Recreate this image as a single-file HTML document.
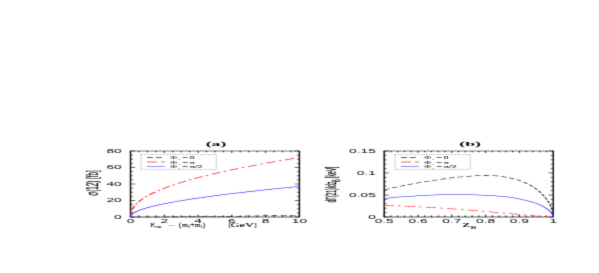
<!DOCTYPE html>
<html><head><meta charset="utf-8">
<style>
html,body{margin:0;padding:0;background:#fff;}
body{width:599px;height:273px;overflow:hidden;font-family:"Liberation Sans",sans-serif;}
svg{display:block;}
text{font-family:"Liberation Sans",sans-serif;fill:#000;}
.ser{font-family:"Liberation Serif",serif;}
</style></head><body>
<svg width="599" height="273" viewBox="0 0 599 273">
<rect x="0" y="0" width="599" height="273" fill="#fff"/>
<defs><filter id="bl" x="0" y="0" width="599" height="273" filterUnits="userSpaceOnUse"><feConvolveMatrix order="3" kernelMatrix="0.01600 0.06800 0.01600 0.12800 0.54400 0.12800 0.01600 0.06800 0.01600" divisor="1" bias="0" edgeMode="none" preserveAlpha="false"/></filter></defs>
<g filter="url(#bl)">
<g transform="scale(2.5,1)">

<path d="M52.200,151.00 L119.760,151.00" stroke="#000" stroke-width="0.45" fill="none"/>
<path d="M52.200,217.00 L119.760,217.00" stroke="#000" stroke-width="0.37" fill="none"/>
<path d="M52.200,150.75 L52.200,217.25" stroke="#000" stroke-width="0.56" fill="none"/>
<path d="M119.760,150.75 L119.760,217.25" stroke="#000" stroke-width="0.56" fill="none"/>
<path d="M52.200,217.00 L52.200,214.70" stroke="#000" stroke-width="0.42" fill="none"/>
<path d="M52.200,151.00 L52.200,152.84" stroke="#000" stroke-width="0.42" fill="none"/>
<path d="M55.578,217.00 L55.578,215.55" stroke="#000" stroke-width="0.42" fill="none"/>
<path d="M55.578,151.00 L55.578,152.16" stroke="#000" stroke-width="0.42" fill="none"/>
<path d="M58.956,217.00 L58.956,215.55" stroke="#000" stroke-width="0.42" fill="none"/>
<path d="M58.956,151.00 L58.956,152.16" stroke="#000" stroke-width="0.42" fill="none"/>
<path d="M62.334,217.00 L62.334,215.55" stroke="#000" stroke-width="0.42" fill="none"/>
<path d="M62.334,151.00 L62.334,152.16" stroke="#000" stroke-width="0.42" fill="none"/>
<path d="M65.712,217.00 L65.712,214.70" stroke="#000" stroke-width="0.42" fill="none"/>
<path d="M65.712,151.00 L65.712,152.84" stroke="#000" stroke-width="0.42" fill="none"/>
<path d="M69.090,217.00 L69.090,215.55" stroke="#000" stroke-width="0.42" fill="none"/>
<path d="M69.090,151.00 L69.090,152.16" stroke="#000" stroke-width="0.42" fill="none"/>
<path d="M72.468,217.00 L72.468,215.55" stroke="#000" stroke-width="0.42" fill="none"/>
<path d="M72.468,151.00 L72.468,152.16" stroke="#000" stroke-width="0.42" fill="none"/>
<path d="M75.846,217.00 L75.846,215.55" stroke="#000" stroke-width="0.42" fill="none"/>
<path d="M75.846,151.00 L75.846,152.16" stroke="#000" stroke-width="0.42" fill="none"/>
<path d="M79.224,217.00 L79.224,214.70" stroke="#000" stroke-width="0.42" fill="none"/>
<path d="M79.224,151.00 L79.224,152.84" stroke="#000" stroke-width="0.42" fill="none"/>
<path d="M82.602,217.00 L82.602,215.55" stroke="#000" stroke-width="0.42" fill="none"/>
<path d="M82.602,151.00 L82.602,152.16" stroke="#000" stroke-width="0.42" fill="none"/>
<path d="M85.980,217.00 L85.980,215.55" stroke="#000" stroke-width="0.42" fill="none"/>
<path d="M85.980,151.00 L85.980,152.16" stroke="#000" stroke-width="0.42" fill="none"/>
<path d="M89.358,217.00 L89.358,215.55" stroke="#000" stroke-width="0.42" fill="none"/>
<path d="M89.358,151.00 L89.358,152.16" stroke="#000" stroke-width="0.42" fill="none"/>
<path d="M92.736,217.00 L92.736,214.70" stroke="#000" stroke-width="0.42" fill="none"/>
<path d="M92.736,151.00 L92.736,152.84" stroke="#000" stroke-width="0.42" fill="none"/>
<path d="M96.114,217.00 L96.114,215.55" stroke="#000" stroke-width="0.42" fill="none"/>
<path d="M96.114,151.00 L96.114,152.16" stroke="#000" stroke-width="0.42" fill="none"/>
<path d="M99.492,217.00 L99.492,215.55" stroke="#000" stroke-width="0.42" fill="none"/>
<path d="M99.492,151.00 L99.492,152.16" stroke="#000" stroke-width="0.42" fill="none"/>
<path d="M102.870,217.00 L102.870,215.55" stroke="#000" stroke-width="0.42" fill="none"/>
<path d="M102.870,151.00 L102.870,152.16" stroke="#000" stroke-width="0.42" fill="none"/>
<path d="M106.248,217.00 L106.248,214.70" stroke="#000" stroke-width="0.42" fill="none"/>
<path d="M106.248,151.00 L106.248,152.84" stroke="#000" stroke-width="0.42" fill="none"/>
<path d="M109.626,217.00 L109.626,215.55" stroke="#000" stroke-width="0.42" fill="none"/>
<path d="M109.626,151.00 L109.626,152.16" stroke="#000" stroke-width="0.42" fill="none"/>
<path d="M113.004,217.00 L113.004,215.55" stroke="#000" stroke-width="0.42" fill="none"/>
<path d="M113.004,151.00 L113.004,152.16" stroke="#000" stroke-width="0.42" fill="none"/>
<path d="M116.382,217.00 L116.382,215.55" stroke="#000" stroke-width="0.42" fill="none"/>
<path d="M116.382,151.00 L116.382,152.16" stroke="#000" stroke-width="0.42" fill="none"/>
<path d="M119.760,217.00 L119.760,214.70" stroke="#000" stroke-width="0.42" fill="none"/>
<path d="M119.760,151.00 L119.760,152.84" stroke="#000" stroke-width="0.42" fill="none"/>
<path d="M52.200,217.00 L54.040,217.00" stroke="#000" stroke-width="0.33" fill="none"/>
<path d="M119.760,217.00 L117.920,217.00" stroke="#000" stroke-width="0.33" fill="none"/>
<path d="M52.200,212.88 L53.200,212.88" stroke="#000" stroke-width="0.33" fill="none"/>
<path d="M119.760,212.88 L118.760,212.88" stroke="#000" stroke-width="0.33" fill="none"/>
<path d="M52.200,208.75 L53.200,208.75" stroke="#000" stroke-width="0.33" fill="none"/>
<path d="M119.760,208.75 L118.760,208.75" stroke="#000" stroke-width="0.33" fill="none"/>
<path d="M52.200,204.62 L53.200,204.62" stroke="#000" stroke-width="0.33" fill="none"/>
<path d="M119.760,204.62 L118.760,204.62" stroke="#000" stroke-width="0.33" fill="none"/>
<path d="M52.200,200.50 L54.040,200.50" stroke="#000" stroke-width="0.33" fill="none"/>
<path d="M119.760,200.50 L117.920,200.50" stroke="#000" stroke-width="0.33" fill="none"/>
<path d="M52.200,196.38 L53.200,196.38" stroke="#000" stroke-width="0.33" fill="none"/>
<path d="M119.760,196.38 L118.760,196.38" stroke="#000" stroke-width="0.33" fill="none"/>
<path d="M52.200,192.25 L53.200,192.25" stroke="#000" stroke-width="0.33" fill="none"/>
<path d="M119.760,192.25 L118.760,192.25" stroke="#000" stroke-width="0.33" fill="none"/>
<path d="M52.200,188.12 L53.200,188.12" stroke="#000" stroke-width="0.33" fill="none"/>
<path d="M119.760,188.12 L118.760,188.12" stroke="#000" stroke-width="0.33" fill="none"/>
<path d="M52.200,184.00 L54.040,184.00" stroke="#000" stroke-width="0.33" fill="none"/>
<path d="M119.760,184.00 L117.920,184.00" stroke="#000" stroke-width="0.33" fill="none"/>
<path d="M52.200,179.88 L53.200,179.88" stroke="#000" stroke-width="0.33" fill="none"/>
<path d="M119.760,179.88 L118.760,179.88" stroke="#000" stroke-width="0.33" fill="none"/>
<path d="M52.200,175.75 L53.200,175.75" stroke="#000" stroke-width="0.33" fill="none"/>
<path d="M119.760,175.75 L118.760,175.75" stroke="#000" stroke-width="0.33" fill="none"/>
<path d="M52.200,171.62 L53.200,171.62" stroke="#000" stroke-width="0.33" fill="none"/>
<path d="M119.760,171.62 L118.760,171.62" stroke="#000" stroke-width="0.33" fill="none"/>
<path d="M52.200,167.50 L54.040,167.50" stroke="#000" stroke-width="0.33" fill="none"/>
<path d="M119.760,167.50 L117.920,167.50" stroke="#000" stroke-width="0.33" fill="none"/>
<path d="M52.200,163.38 L53.200,163.38" stroke="#000" stroke-width="0.33" fill="none"/>
<path d="M119.760,163.38 L118.760,163.38" stroke="#000" stroke-width="0.33" fill="none"/>
<path d="M52.200,159.25 L53.200,159.25" stroke="#000" stroke-width="0.33" fill="none"/>
<path d="M119.760,159.25 L118.760,159.25" stroke="#000" stroke-width="0.33" fill="none"/>
<path d="M52.200,155.12 L53.200,155.12" stroke="#000" stroke-width="0.33" fill="none"/>
<path d="M119.760,155.12 L118.760,155.12" stroke="#000" stroke-width="0.33" fill="none"/>
<path d="M52.200,151.00 L54.040,151.00" stroke="#000" stroke-width="0.33" fill="none"/>
<path d="M119.760,151.00 L117.920,151.00" stroke="#000" stroke-width="0.33" fill="none"/>
<text class="" transform="translate(52.200,222.75) scale(1.12,1)" font-size="4.9" text-anchor="middle" font-weight="normal" fill="#000" >0</text>
<text class="" transform="translate(65.712,222.75) scale(1.12,1)" font-size="4.9" text-anchor="middle" font-weight="normal" fill="#000" >2</text>
<text class="" transform="translate(79.224,222.75) scale(1.12,1)" font-size="4.9" text-anchor="middle" font-weight="normal" fill="#000" >4</text>
<text class="" transform="translate(92.736,222.75) scale(1.12,1)" font-size="4.9" text-anchor="middle" font-weight="normal" fill="#000" >6</text>
<text class="" transform="translate(106.248,222.75) scale(1.12,1)" font-size="4.9" text-anchor="middle" font-weight="normal" fill="#000" >8</text>
<text class="" transform="translate(119.760,222.75) scale(1.12,1)" font-size="4.9" text-anchor="middle" font-weight="normal" fill="#000" >10</text>
<text class="" transform="translate(48.680,218.85) scale(1.12,1)" font-size="4.9" text-anchor="end" font-weight="normal" fill="#000" >0</text>
<text class="" transform="translate(48.680,202.35) scale(1.12,1)" font-size="4.9" text-anchor="end" font-weight="normal" fill="#000" >20</text>
<text class="" transform="translate(48.680,185.85) scale(1.12,1)" font-size="4.9" text-anchor="end" font-weight="normal" fill="#000" >40</text>
<text class="" transform="translate(48.680,169.35) scale(1.12,1)" font-size="4.9" text-anchor="end" font-weight="normal" fill="#000" >60</text>
<text class="" transform="translate(48.680,152.85) scale(1.12,1)" font-size="4.9" text-anchor="end" font-weight="normal" fill="#000" >80</text>
<path d="M52.200,217.00 L52.234,217.00 L52.269,217.00 L52.303,217.00 L52.337,217.00 L52.372,217.00 L52.406,217.00 L52.440,217.00 L52.475,217.00 L52.509,217.00 L52.544,217.00 L52.578,217.00 L52.612,217.00 L52.647,217.00 L52.681,217.00 L52.715,217.00 L52.750,217.00 L52.784,217.00 L52.818,217.00 L52.853,217.00 L52.887,217.00 L52.921,217.00 L52.956,217.00 L52.990,217.00 L53.024,217.00 L53.059,217.00 L53.093,217.00 L53.117,217.00 M54.337,217.00 L54.446,217.00 L54.665,217.00 L54.884,217.00 L55.103,217.00 L55.323,217.00 L55.542,217.00 L55.761,216.99 L55.980,216.99 L56.199,216.99 L56.419,216.99 L56.638,216.99 L56.737,216.99 M57.957,216.99 L58.172,216.99 L58.391,216.98 L58.610,216.98 L58.829,216.98 L59.049,216.98 L59.268,216.98 L59.487,216.98 L59.706,216.98 L59.925,216.98 L60.145,216.97 L60.357,216.97 M61.577,216.96 L61.679,216.96 L61.898,216.96 L62.117,216.96 L62.336,216.96 L62.555,216.96 L62.775,216.95 L62.994,216.95 L63.213,216.95 L63.432,216.95 L63.651,216.95 L63.870,216.94 L63.977,216.94 M65.197,216.93 L65.405,216.93 L65.624,216.93 L65.843,216.92 L66.062,216.92 L66.281,216.92 L66.501,216.91 L66.720,216.91 L66.939,216.91 L67.158,216.91 L67.377,216.90 L67.596,216.90 L67.597,216.90 M68.816,216.89 L68.911,216.88 L69.131,216.88 L69.350,216.88 L69.569,216.87 L69.788,216.87 L70.007,216.87 L70.227,216.86 L70.446,216.86 L70.665,216.86 L70.884,216.85 L71.103,216.85 L71.216,216.85 M72.436,216.83 L72.637,216.83 L72.857,216.82 L73.076,216.82 L73.295,216.82 L73.514,216.81 L73.733,216.81 L73.953,216.80 L74.172,216.80 L74.391,216.80 L74.610,216.79 L74.829,216.79 L74.836,216.79 M76.055,216.76 L76.144,216.76 L76.363,216.76 L76.583,216.75 L76.802,216.75 L77.021,216.74 L77.240,216.74 L77.459,216.73 L77.678,216.73 L77.898,216.73 L78.117,216.72 L78.336,216.72 L78.455,216.71 M79.675,216.69 L79.870,216.68 L80.089,216.68 L80.309,216.67 L80.528,216.67 L80.747,216.66 L80.966,216.66 L81.185,216.65 L81.404,216.65 L81.624,216.64 L81.843,216.63 L82.062,216.63 L82.074,216.63 M83.293,216.60 L83.377,216.60 L83.596,216.59 L83.815,216.58 L84.035,216.58 L84.254,216.57 L84.473,216.57 L84.692,216.56 L84.911,216.56 L85.130,216.55 L85.350,216.54 L85.569,216.54 L85.693,216.53 M86.912,216.50 L87.103,216.49 L87.322,216.49 L87.541,216.48 L87.761,216.47 L87.980,216.47 L88.199,216.46 L88.418,216.45 L88.637,216.45 L88.856,216.44 L89.076,216.43 L89.295,216.43 L89.311,216.43 M90.530,216.39 L90.610,216.39 L90.829,216.38 L91.048,216.37 L91.267,216.37 L91.486,216.36 L91.706,216.35 L91.925,216.34 L92.144,216.34 L92.363,216.33 L92.582,216.32 L92.802,216.31 L92.929,216.31 M94.148,216.27 L94.336,216.26 L94.555,216.25 L94.774,216.25 L94.993,216.24 L95.212,216.23 L95.432,216.22 L95.651,216.22 L95.870,216.21 L96.089,216.20 L96.308,216.19 L96.527,216.18 L96.547,216.18 M97.766,216.14 L97.843,216.13 L98.062,216.13 L98.281,216.12 L98.500,216.11 L98.719,216.10 L98.938,216.09 L99.158,216.08 L99.377,216.07 L99.596,216.07 L99.815,216.06 L100.034,216.05 L100.164,216.04 M101.383,215.99 L101.569,215.99 L101.788,215.98 L102.007,215.97 L102.226,215.96 L102.445,215.95 L102.664,215.94 L102.884,215.93 L103.103,215.92 L103.322,215.91 L103.541,215.90 L103.760,215.89 L103.781,215.89 M105.000,215.84 L105.075,215.84 L105.294,215.83 L105.514,215.82 L105.733,215.81 L105.952,215.80 L106.171,215.79 L106.390,215.78 L106.610,215.77 L106.829,215.76 L107.048,215.75 L107.267,215.74 L107.398,215.73 M108.616,215.68 L108.801,215.67 L109.020,215.66 L109.240,215.65 L109.459,215.64 L109.678,215.63 L109.897,215.62 L110.116,215.61 L110.335,215.59 L110.555,215.58 L110.774,215.57 L110.993,215.56 L111.014,215.56 M112.232,215.50 L112.308,215.50 L112.527,215.49 L112.746,215.48 L112.966,215.46 L113.185,215.45 L113.404,215.44 L113.623,215.43 L113.842,215.42 L114.061,215.41 L114.281,215.40 L114.500,215.39 L114.629,215.38 M115.847,215.32 L116.034,215.31 L116.253,215.29 L116.472,215.28 L116.692,215.27 L116.911,215.26 L117.130,215.25 L117.349,215.24 L117.568,215.22 L117.787,215.21 L118.007,215.20 L118.226,215.19 L118.244,215.19 M119.462,215.12 L119.541,215.11 L119.760,215.10" stroke="#222" stroke-width="0.56" fill="none" stroke-linecap="butt" stroke-linejoin="round"/>
<path d="M52.200,217.00 L52.234,215.04 L52.269,214.33 L52.295,213.91 M52.437,212.33 L52.440,212.30 L52.475,212.01 L52.509,211.74 L52.544,211.48 L52.572,211.28 M52.837,209.72 L52.853,209.64 L52.887,209.47 L52.921,209.30 L52.956,209.14 L52.990,208.98 L53.024,208.82 L53.059,208.67 L53.093,208.52 L53.128,208.38 L53.162,208.23 L53.196,208.09 L53.231,207.96 L53.265,207.82 L53.299,207.69 L53.334,207.56 L53.368,207.43 L53.402,207.31 L53.437,207.18 L53.471,207.06 L53.505,206.94 L53.540,206.82 L53.574,206.71 L53.608,206.59 L53.643,206.48 L53.677,206.37 L53.712,206.26 L53.746,206.15 L53.780,206.04 L53.815,205.93 L53.825,205.90 M54.354,204.40 L54.446,204.16 L54.665,203.61 L54.745,203.42 M55.388,201.97 L55.542,201.65 L55.761,201.20 L55.980,200.77 L56.199,200.35 L56.419,199.95 L56.638,199.56 L56.857,199.17 L57.076,198.80 L57.258,198.50 M58.108,197.16 L58.172,197.06 L58.391,196.74 L58.610,196.42 L58.703,196.28 M59.634,195.00 L59.706,194.90 L59.925,194.61 L60.145,194.33 L60.364,194.05 L60.583,193.78 L60.802,193.50 L61.021,193.24 L61.240,192.97 L61.460,192.71 L61.679,192.45 L61.898,192.20 L62.117,191.95 L62.125,191.94 M63.190,190.77 L63.213,190.74 L63.432,190.51 L63.651,190.28 L63.870,190.05 L63.918,190.00 M65.034,188.87 L65.186,188.72 L65.405,188.51 L65.624,188.29 L65.843,188.08 L66.062,187.88 L66.281,187.67 L66.501,187.47 L66.720,187.26 L66.939,187.06 L67.158,186.86 L67.377,186.66 L67.596,186.47 L67.816,186.27 L67.920,186.18 M69.120,185.14 L69.131,185.13 L69.350,184.95 L69.569,184.77 L69.788,184.58 L69.932,184.46 M71.165,183.46 L71.322,183.34 L71.542,183.17 L71.761,182.99 L71.980,182.82 L72.199,182.65 L72.418,182.48 L72.637,182.32 L72.857,182.15 L73.076,181.98 L73.295,181.82 L73.514,181.66 L73.733,181.49 L73.953,181.33 L74.172,181.17 L74.302,181.07 M75.590,180.15 L75.706,180.06 L75.925,179.91 L76.144,179.76 L76.363,179.60 L76.456,179.54 M77.766,178.64 L77.898,178.55 L78.117,178.40 L78.336,178.26 L78.555,178.11 L78.774,177.97 L78.994,177.82 L79.213,177.68 L79.432,177.54 L79.651,177.39 L79.870,177.25 L80.089,177.11 L80.309,176.97 L80.528,176.83 L80.747,176.69 L80.966,176.55 L81.068,176.49 M82.415,175.65 L82.500,175.59 L82.719,175.46 L82.939,175.32 L83.158,175.19 L83.318,175.09 M84.680,174.28 L84.692,174.27 L84.911,174.14 L85.130,174.01 L85.350,173.88 L85.569,173.76 L85.788,173.63 L86.007,173.50 L86.226,173.37 L86.445,173.25 L86.665,173.12 L86.884,173.00 L87.103,172.87 L87.322,172.75 L87.541,172.62 L87.761,172.50 L87.980,172.38 L88.098,172.31 M89.486,171.54 L89.514,171.53 L89.733,171.41 L89.952,171.29 L90.171,171.17 L90.391,171.05 L90.416,171.03 M91.815,170.28 L91.925,170.23 L92.144,170.11 L92.363,169.99 L92.582,169.88 L92.802,169.76 L93.021,169.65 L93.240,169.54 L93.459,169.42 L93.678,169.31 L93.897,169.19 L94.117,169.08 L94.336,168.97 L94.555,168.86 L94.774,168.75 L94.993,168.63 L95.212,168.52 L95.316,168.47 M96.735,167.76 L96.747,167.75 L96.966,167.64 L97.185,167.53 L97.404,167.43 L97.623,167.32 L97.684,167.29 M99.110,166.59 L99.158,166.57 L99.377,166.46 L99.596,166.36 L99.815,166.25 L100.034,166.15 L100.253,166.04 L100.473,165.94 L100.692,165.83 L100.911,165.73 L101.130,165.63 L101.349,165.52 L101.569,165.42 L101.788,165.32 L102.007,165.21 L102.226,165.11 L102.445,165.01 L102.664,164.91 L102.674,164.90 M104.116,164.24 L104.199,164.20 L104.418,164.10 L104.637,164.00 L104.856,163.90 L105.075,163.80 L105.079,163.80 M106.527,163.15 L106.610,163.11 L106.829,163.02 L107.048,162.92 L107.267,162.82 L107.486,162.72 L107.705,162.63 L107.925,162.53 L108.144,162.43 L108.363,162.34 L108.582,162.24 L108.801,162.15 L109.020,162.05 L109.240,161.96 L109.459,161.86 L109.678,161.77 L109.897,161.67 L110.116,161.58 L110.140,161.57 M111.599,160.94 L111.651,160.92 L111.870,160.83 L112.089,160.74 L112.308,160.64 L112.527,160.55 L112.574,160.53 M114.038,159.92 L114.061,159.91 L114.281,159.82 L114.500,159.73 L114.719,159.64 L114.938,159.55 L115.157,159.46 L115.377,159.37 L115.596,159.28 L115.815,159.19 L116.034,159.10 L116.253,159.01 L116.472,158.92 L116.692,158.83 L116.911,158.74 L117.130,158.65 L117.349,158.56 L117.568,158.48 L117.689,158.43 M119.163,157.84 L119.322,157.77 L119.541,157.69 L119.760,157.60" stroke="#ff2020" stroke-width="0.68" fill="none" stroke-linecap="butt" stroke-linejoin="round"/>
<path d="M52.200,217.00 L52.234,216.35 L52.269,216.08 L52.303,215.87 L52.337,215.70 L52.372,215.54 L52.406,215.40 L52.440,215.28 L52.475,215.16 L52.509,215.04 L52.544,214.94 L52.578,214.84 L52.612,214.74 L52.647,214.65 L52.681,214.56 L52.715,214.47 L52.750,214.39 L52.784,214.31 L52.818,214.23 L52.853,214.15 L52.887,214.08 L52.921,214.00 L52.956,213.93 L52.990,213.86 L53.024,213.80 L53.059,213.73 L53.093,213.66 L53.128,213.60 L53.162,213.54 L53.196,213.48 L53.231,213.42 L53.265,213.36 L53.299,213.30 L53.334,213.24 L53.368,213.18 L53.402,213.13 L53.437,213.07 L53.471,213.02 L53.505,212.96 L53.540,212.91 L53.574,212.86 L53.608,212.80 L53.643,212.75 L53.677,212.70 L53.712,212.65 L53.746,212.60 L53.780,212.55 L53.815,212.50 L53.849,212.46 L53.883,212.41 L53.918,212.36 L53.952,212.32 L53.986,212.27 L54.021,212.22 L54.055,212.18 L54.089,212.13 L54.124,212.09 L54.158,212.04 L54.192,212.00 L54.227,211.96 L54.446,211.69 L54.665,211.43 L54.884,211.19 L55.103,210.95 L55.323,210.72 L55.542,210.51 L55.761,210.29 L55.980,210.09 L56.199,209.89 L56.419,209.69 L56.638,209.50 L56.857,209.31 L57.076,209.13 L57.295,208.95 L57.514,208.78 L57.734,208.61 L57.953,208.44 L58.172,208.28 L58.391,208.12 L58.610,207.96 L58.829,207.80 L59.049,207.65 L59.268,207.50 L59.487,207.35 L59.706,207.20 L59.925,207.05 L60.145,206.91 L60.364,206.77 L60.583,206.63 L60.802,206.49 L61.021,206.36 L61.240,206.22 L61.460,206.09 L61.679,205.96 L61.898,205.83 L62.117,205.70 L62.336,205.57 L62.555,205.45 L62.775,205.32 L62.994,205.20 L63.213,205.08 L63.432,204.96 L63.651,204.84 L63.870,204.72 L64.090,204.60 L64.309,204.48 L64.528,204.37 L64.747,204.25 L64.966,204.14 L65.186,204.03 L65.405,203.92 L65.624,203.80 L65.843,203.69 L66.062,203.58 L66.281,203.48 L66.501,203.37 L66.720,203.26 L66.939,203.15 L67.158,203.05 L67.377,202.94 L67.596,202.84 L67.816,202.74 L68.035,202.63 L68.254,202.53 L68.473,202.43 L68.692,202.33 L68.911,202.23 L69.131,202.13 L69.350,202.03 L69.569,201.93 L69.788,201.84 L70.007,201.74 L70.227,201.64 L70.446,201.55 L70.665,201.45 L70.884,201.36 L71.103,201.26 L71.322,201.17 L71.542,201.07 L71.761,200.98 L71.980,200.89 L72.199,200.80 L72.418,200.71 L72.637,200.61 L72.857,200.52 L73.076,200.43 L73.295,200.34 L73.514,200.26 L73.733,200.17 L73.953,200.08 L74.172,199.99 L74.391,199.90 L74.610,199.82 L74.829,199.73 L75.048,199.64 L75.268,199.56 L75.487,199.47 L75.706,199.39 L75.925,199.30 L76.144,199.22 L76.363,199.13 L76.583,199.05 L76.802,198.96 L77.021,198.88 L77.240,198.80 L77.459,198.72 L77.678,198.63 L77.898,198.55 L78.117,198.47 L78.336,198.39 L78.555,198.31 L78.774,198.23 L78.994,198.15 L79.213,198.07 L79.432,197.99 L79.651,197.91 L79.870,197.83 L80.089,197.75 L80.309,197.67 L80.528,197.60 L80.747,197.52 L80.966,197.44 L81.185,197.36 L81.404,197.29 L81.624,197.21 L81.843,197.13 L82.062,197.06 L82.281,196.98 L82.500,196.90 L82.719,196.83 L82.939,196.75 L83.158,196.68 L83.377,196.60 L83.596,196.53 L83.815,196.46 L84.035,196.38 L84.254,196.31 L84.473,196.23 L84.692,196.16 L84.911,196.09 L85.130,196.01 L85.350,195.94 L85.569,195.87 L85.788,195.80 L86.007,195.73 L86.226,195.65 L86.445,195.58 L86.665,195.51 L86.884,195.44 L87.103,195.37 L87.322,195.30 L87.541,195.23 L87.761,195.16 L87.980,195.09 L88.199,195.02 L88.418,194.95 L88.637,194.88 L88.856,194.81 L89.076,194.74 L89.295,194.67 L89.514,194.60 L89.733,194.53 L89.952,194.46 L90.171,194.40 L90.391,194.33 L90.610,194.26 L90.829,194.19 L91.048,194.13 L91.267,194.06 L91.486,193.99 L91.706,193.92 L91.925,193.86 L92.144,193.79 L92.363,193.72 L92.582,193.66 L92.802,193.59 L93.021,193.53 L93.240,193.46 L93.459,193.39 L93.678,193.33 L93.897,193.26 L94.117,193.20 L94.336,193.13 L94.555,193.07 L94.774,193.00 L94.993,192.94 L95.212,192.87 L95.432,192.81 L95.651,192.75 L95.870,192.68 L96.089,192.62 L96.308,192.55 L96.527,192.49 L96.747,192.43 L96.966,192.36 L97.185,192.30 L97.404,192.24 L97.623,192.17 L97.843,192.11 L98.062,192.05 L98.281,191.99 L98.500,191.92 L98.719,191.86 L98.938,191.80 L99.158,191.74 L99.377,191.68 L99.596,191.61 L99.815,191.55 L100.034,191.49 L100.253,191.43 L100.473,191.37 L100.692,191.31 L100.911,191.25 L101.130,191.19 L101.349,191.13 L101.569,191.06 L101.788,191.00 L102.007,190.94 L102.226,190.88 L102.445,190.82 L102.664,190.76 L102.884,190.70 L103.103,190.64 L103.322,190.58 L103.541,190.53 L103.760,190.47 L103.979,190.41 L104.199,190.35 L104.418,190.29 L104.637,190.23 L104.856,190.17 L105.075,190.11 L105.294,190.05 L105.514,190.00 L105.733,189.94 L105.952,189.88 L106.171,189.82 L106.390,189.76 L106.610,189.70 L106.829,189.65 L107.048,189.59 L107.267,189.53 L107.486,189.47 L107.705,189.42 L107.925,189.36 L108.144,189.30 L108.363,189.24 L108.582,189.19 L108.801,189.13 L109.020,189.07 L109.240,189.02 L109.459,188.96 L109.678,188.90 L109.897,188.85 L110.116,188.79 L110.335,188.73 L110.555,188.68 L110.774,188.62 L110.993,188.57 L111.212,188.51 L111.431,188.45 L111.651,188.40 L111.870,188.34 L112.089,188.29 L112.308,188.23 L112.527,188.18 L112.746,188.12 L112.966,188.07 L113.185,188.01 L113.404,187.96 L113.623,187.90 L113.842,187.85 L114.061,187.79 L114.281,187.74 L114.500,187.68 L114.719,187.63 L114.938,187.57 L115.157,187.52 L115.377,187.47 L115.596,187.41 L115.815,187.36 L116.034,187.30 L116.253,187.25 L116.472,187.20 L116.692,187.14 L116.911,187.09 L117.130,187.04 L117.349,186.98 L117.568,186.93 L117.787,186.88 L118.007,186.82 L118.226,186.77 L118.445,186.72 L118.664,186.66 L118.883,186.61 L119.102,186.56 L119.322,186.50 L119.541,186.45 L119.760,186.40" stroke="#2828ff" stroke-width="0.56" fill="none" stroke-linecap="butt" stroke-linejoin="round"/>
<path d="M153.680,151.00 L221.280,151.00" stroke="#000" stroke-width="0.45" fill="none"/>
<path d="M153.680,217.00 L221.280,217.00" stroke="#000" stroke-width="0.37" fill="none"/>
<path d="M153.680,150.75 L153.680,217.25" stroke="#000" stroke-width="0.56" fill="none"/>
<path d="M221.280,150.75 L221.280,217.25" stroke="#000" stroke-width="0.56" fill="none"/>
<path d="M153.680,217.00 L153.680,214.70" stroke="#000" stroke-width="0.42" fill="none"/>
<path d="M153.680,151.00 L153.680,152.84" stroke="#000" stroke-width="0.42" fill="none"/>
<path d="M156.384,217.00 L156.384,215.55" stroke="#000" stroke-width="0.42" fill="none"/>
<path d="M156.384,151.00 L156.384,152.16" stroke="#000" stroke-width="0.42" fill="none"/>
<path d="M159.088,217.00 L159.088,215.55" stroke="#000" stroke-width="0.42" fill="none"/>
<path d="M159.088,151.00 L159.088,152.16" stroke="#000" stroke-width="0.42" fill="none"/>
<path d="M161.792,217.00 L161.792,215.55" stroke="#000" stroke-width="0.42" fill="none"/>
<path d="M161.792,151.00 L161.792,152.16" stroke="#000" stroke-width="0.42" fill="none"/>
<path d="M164.496,217.00 L164.496,215.55" stroke="#000" stroke-width="0.42" fill="none"/>
<path d="M164.496,151.00 L164.496,152.16" stroke="#000" stroke-width="0.42" fill="none"/>
<path d="M167.200,217.00 L167.200,214.70" stroke="#000" stroke-width="0.42" fill="none"/>
<path d="M167.200,151.00 L167.200,152.84" stroke="#000" stroke-width="0.42" fill="none"/>
<path d="M169.904,217.00 L169.904,215.55" stroke="#000" stroke-width="0.42" fill="none"/>
<path d="M169.904,151.00 L169.904,152.16" stroke="#000" stroke-width="0.42" fill="none"/>
<path d="M172.608,217.00 L172.608,215.55" stroke="#000" stroke-width="0.42" fill="none"/>
<path d="M172.608,151.00 L172.608,152.16" stroke="#000" stroke-width="0.42" fill="none"/>
<path d="M175.312,217.00 L175.312,215.55" stroke="#000" stroke-width="0.42" fill="none"/>
<path d="M175.312,151.00 L175.312,152.16" stroke="#000" stroke-width="0.42" fill="none"/>
<path d="M178.016,217.00 L178.016,215.55" stroke="#000" stroke-width="0.42" fill="none"/>
<path d="M178.016,151.00 L178.016,152.16" stroke="#000" stroke-width="0.42" fill="none"/>
<path d="M180.720,217.00 L180.720,214.70" stroke="#000" stroke-width="0.42" fill="none"/>
<path d="M180.720,151.00 L180.720,152.84" stroke="#000" stroke-width="0.42" fill="none"/>
<path d="M183.424,217.00 L183.424,215.55" stroke="#000" stroke-width="0.42" fill="none"/>
<path d="M183.424,151.00 L183.424,152.16" stroke="#000" stroke-width="0.42" fill="none"/>
<path d="M186.128,217.00 L186.128,215.55" stroke="#000" stroke-width="0.42" fill="none"/>
<path d="M186.128,151.00 L186.128,152.16" stroke="#000" stroke-width="0.42" fill="none"/>
<path d="M188.832,217.00 L188.832,215.55" stroke="#000" stroke-width="0.42" fill="none"/>
<path d="M188.832,151.00 L188.832,152.16" stroke="#000" stroke-width="0.42" fill="none"/>
<path d="M191.536,217.00 L191.536,215.55" stroke="#000" stroke-width="0.42" fill="none"/>
<path d="M191.536,151.00 L191.536,152.16" stroke="#000" stroke-width="0.42" fill="none"/>
<path d="M194.240,217.00 L194.240,214.70" stroke="#000" stroke-width="0.42" fill="none"/>
<path d="M194.240,151.00 L194.240,152.84" stroke="#000" stroke-width="0.42" fill="none"/>
<path d="M196.944,217.00 L196.944,215.55" stroke="#000" stroke-width="0.42" fill="none"/>
<path d="M196.944,151.00 L196.944,152.16" stroke="#000" stroke-width="0.42" fill="none"/>
<path d="M199.648,217.00 L199.648,215.55" stroke="#000" stroke-width="0.42" fill="none"/>
<path d="M199.648,151.00 L199.648,152.16" stroke="#000" stroke-width="0.42" fill="none"/>
<path d="M202.352,217.00 L202.352,215.55" stroke="#000" stroke-width="0.42" fill="none"/>
<path d="M202.352,151.00 L202.352,152.16" stroke="#000" stroke-width="0.42" fill="none"/>
<path d="M205.056,217.00 L205.056,215.55" stroke="#000" stroke-width="0.42" fill="none"/>
<path d="M205.056,151.00 L205.056,152.16" stroke="#000" stroke-width="0.42" fill="none"/>
<path d="M207.760,217.00 L207.760,214.70" stroke="#000" stroke-width="0.42" fill="none"/>
<path d="M207.760,151.00 L207.760,152.84" stroke="#000" stroke-width="0.42" fill="none"/>
<path d="M210.464,217.00 L210.464,215.55" stroke="#000" stroke-width="0.42" fill="none"/>
<path d="M210.464,151.00 L210.464,152.16" stroke="#000" stroke-width="0.42" fill="none"/>
<path d="M213.168,217.00 L213.168,215.55" stroke="#000" stroke-width="0.42" fill="none"/>
<path d="M213.168,151.00 L213.168,152.16" stroke="#000" stroke-width="0.42" fill="none"/>
<path d="M215.872,217.00 L215.872,215.55" stroke="#000" stroke-width="0.42" fill="none"/>
<path d="M215.872,151.00 L215.872,152.16" stroke="#000" stroke-width="0.42" fill="none"/>
<path d="M218.576,217.00 L218.576,215.55" stroke="#000" stroke-width="0.42" fill="none"/>
<path d="M218.576,151.00 L218.576,152.16" stroke="#000" stroke-width="0.42" fill="none"/>
<path d="M221.280,217.00 L221.280,214.70" stroke="#000" stroke-width="0.42" fill="none"/>
<path d="M221.280,151.00 L221.280,152.84" stroke="#000" stroke-width="0.42" fill="none"/>
<path d="M153.680,217.00 L155.520,217.00" stroke="#000" stroke-width="0.33" fill="none"/>
<path d="M221.280,217.00 L219.440,217.00" stroke="#000" stroke-width="0.33" fill="none"/>
<path d="M153.680,212.60 L154.680,212.60" stroke="#000" stroke-width="0.33" fill="none"/>
<path d="M221.280,212.60 L220.280,212.60" stroke="#000" stroke-width="0.33" fill="none"/>
<path d="M153.680,208.20 L154.680,208.20" stroke="#000" stroke-width="0.33" fill="none"/>
<path d="M221.280,208.20 L220.280,208.20" stroke="#000" stroke-width="0.33" fill="none"/>
<path d="M153.680,203.80 L154.680,203.80" stroke="#000" stroke-width="0.33" fill="none"/>
<path d="M221.280,203.80 L220.280,203.80" stroke="#000" stroke-width="0.33" fill="none"/>
<path d="M153.680,199.40 L154.680,199.40" stroke="#000" stroke-width="0.33" fill="none"/>
<path d="M221.280,199.40 L220.280,199.40" stroke="#000" stroke-width="0.33" fill="none"/>
<path d="M153.680,195.00 L155.520,195.00" stroke="#000" stroke-width="0.33" fill="none"/>
<path d="M221.280,195.00 L219.440,195.00" stroke="#000" stroke-width="0.33" fill="none"/>
<path d="M153.680,190.60 L154.680,190.60" stroke="#000" stroke-width="0.33" fill="none"/>
<path d="M221.280,190.60 L220.280,190.60" stroke="#000" stroke-width="0.33" fill="none"/>
<path d="M153.680,186.20 L154.680,186.20" stroke="#000" stroke-width="0.33" fill="none"/>
<path d="M221.280,186.20 L220.280,186.20" stroke="#000" stroke-width="0.33" fill="none"/>
<path d="M153.680,181.80 L154.680,181.80" stroke="#000" stroke-width="0.33" fill="none"/>
<path d="M221.280,181.80 L220.280,181.80" stroke="#000" stroke-width="0.33" fill="none"/>
<path d="M153.680,177.40 L154.680,177.40" stroke="#000" stroke-width="0.33" fill="none"/>
<path d="M221.280,177.40 L220.280,177.40" stroke="#000" stroke-width="0.33" fill="none"/>
<path d="M153.680,173.00 L155.520,173.00" stroke="#000" stroke-width="0.33" fill="none"/>
<path d="M221.280,173.00 L219.440,173.00" stroke="#000" stroke-width="0.33" fill="none"/>
<path d="M153.680,168.60 L154.680,168.60" stroke="#000" stroke-width="0.33" fill="none"/>
<path d="M221.280,168.60 L220.280,168.60" stroke="#000" stroke-width="0.33" fill="none"/>
<path d="M153.680,164.20 L154.680,164.20" stroke="#000" stroke-width="0.33" fill="none"/>
<path d="M221.280,164.20 L220.280,164.20" stroke="#000" stroke-width="0.33" fill="none"/>
<path d="M153.680,159.80 L154.680,159.80" stroke="#000" stroke-width="0.33" fill="none"/>
<path d="M221.280,159.80 L220.280,159.80" stroke="#000" stroke-width="0.33" fill="none"/>
<path d="M153.680,155.40 L154.680,155.40" stroke="#000" stroke-width="0.33" fill="none"/>
<path d="M221.280,155.40 L220.280,155.40" stroke="#000" stroke-width="0.33" fill="none"/>
<path d="M153.680,151.00 L155.520,151.00" stroke="#000" stroke-width="0.33" fill="none"/>
<path d="M221.280,151.00 L219.440,151.00" stroke="#000" stroke-width="0.33" fill="none"/>
<text class="" transform="translate(153.680,222.75) scale(1.12,1)" font-size="4.9" text-anchor="middle" font-weight="normal" fill="#000" >0.5</text>
<text class="" transform="translate(167.200,222.75) scale(1.12,1)" font-size="4.9" text-anchor="middle" font-weight="normal" fill="#000" >0.6</text>
<text class="" transform="translate(180.720,222.75) scale(1.12,1)" font-size="4.9" text-anchor="middle" font-weight="normal" fill="#000" >0.7</text>
<text class="" transform="translate(194.240,222.75) scale(1.12,1)" font-size="4.9" text-anchor="middle" font-weight="normal" fill="#000" >0.8</text>
<text class="" transform="translate(207.760,222.75) scale(1.12,1)" font-size="4.9" text-anchor="middle" font-weight="normal" fill="#000" >0.9</text>
<text class="" transform="translate(221.280,222.75) scale(1.12,1)" font-size="4.9" text-anchor="middle" font-weight="normal" fill="#000" >1</text>
<text class="" transform="translate(150.320,218.85) scale(1.12,1)" font-size="4.9" text-anchor="end" font-weight="normal" fill="#000" >0</text>
<text class="" transform="translate(150.320,196.85) scale(1.12,1)" font-size="4.9" text-anchor="end" font-weight="normal" fill="#000" >0.05</text>
<text class="" transform="translate(150.320,174.85) scale(1.12,1)" font-size="4.9" text-anchor="end" font-weight="normal" fill="#000" >0.1</text>
<text class="" transform="translate(150.320,152.85) scale(1.12,1)" font-size="4.9" text-anchor="end" font-weight="normal" fill="#000" >0.15</text>
<path d="M153.719,189.82 L153.951,189.68 L154.221,189.52 L154.490,189.37 L154.759,189.21 L155.028,189.05 L155.296,188.90 L155.563,188.75 L155.754,188.64 M156.800,188.05 L156.892,188.00 L157.156,187.85 L157.420,187.71 L157.683,187.56 L157.946,187.42 L158.208,187.28 L158.469,187.14 L158.730,187.00 L158.862,186.93 M159.923,186.36 L160.026,186.31 L160.284,186.17 L160.541,186.04 L160.798,185.91 L161.054,185.78 L161.309,185.65 L161.564,185.52 L161.818,185.39 L162.014,185.29 M163.090,184.76 L163.333,184.64 L163.584,184.52 L163.834,184.41 L164.083,184.29 L164.332,184.17 L164.581,184.06 L164.829,183.95 L165.076,183.83 L165.221,183.77 M166.319,183.29 L166.548,183.19 L166.792,183.08 L167.035,182.98 L167.277,182.88 L167.519,182.77 L167.761,182.67 L168.001,182.57 L168.242,182.47 L168.481,182.38 L168.485,182.37 M169.597,181.92 L169.672,181.89 L169.908,181.80 L170.144,181.71 L170.380,181.61 L170.614,181.52 L170.849,181.43 L171.082,181.34 L171.316,181.24 L171.548,181.15 L171.780,181.06 L171.783,181.06 M172.902,180.63 L172.933,180.62 L173.162,180.53 L173.390,180.44 L173.618,180.35 L173.845,180.27 L174.072,180.18 L174.298,180.09 L174.524,180.01 L174.749,179.92 L174.973,179.84 L175.098,179.79 M176.223,179.37 L176.309,179.34 L176.530,179.26 L176.750,179.18 L176.969,179.10 L177.188,179.02 L177.407,178.95 L177.625,178.87 L177.842,178.79 L178.059,178.72 L178.276,178.64 L178.438,178.59 M179.577,178.21 L179.775,178.15 L179.987,178.08 L180.199,178.01 L180.410,177.95 L180.620,177.88 L180.830,177.82 L181.039,177.76 L181.248,177.70 L181.456,177.63 L181.664,177.58 L181.826,177.53 M182.985,177.22 L183.102,177.19 L183.306,177.14 L183.509,177.09 L183.711,177.04 L183.913,176.99 L184.114,176.95 L184.314,176.90 L184.514,176.86 L184.714,176.81 L184.913,176.77 L185.111,176.73 L185.276,176.70 M186.453,176.46 L186.485,176.46 L186.680,176.42 L186.873,176.38 L187.066,176.35 L187.259,176.31 L187.451,176.28 L187.642,176.24 L187.833,176.20 L188.023,176.17 L188.213,176.13 L188.402,176.10 L188.591,176.06 L188.762,176.03 M189.940,175.80 L190.081,175.77 L190.264,175.74 L190.448,175.70 L190.630,175.67 L190.813,175.64 L190.994,175.61 L191.175,175.58 L191.356,175.56 L191.536,175.53 L191.715,175.51 L191.894,175.49 L192.073,175.46 L192.250,175.45 L192.263,175.44 M193.460,175.37 L193.480,175.37 L193.653,175.36 L193.826,175.36 L193.999,175.36 L194.171,175.36 L194.342,175.37 L194.513,175.37 L194.683,175.37 L194.853,175.38 L195.022,175.39 L195.190,175.40 L195.358,175.41 L195.526,175.42 L195.693,175.43 L195.807,175.44 M196.999,175.58 L197.009,175.59 L197.171,175.61 L197.333,175.64 L197.494,175.66 L197.654,175.69 L197.814,175.72 L197.973,175.75 L198.132,175.79 L198.290,175.82 L198.448,175.85 L198.605,175.89 L198.762,175.93 L198.918,175.97 L199.074,176.01 L199.229,176.05 L199.297,176.07 M200.443,176.42 L200.449,176.42 L200.599,176.48 L200.749,176.53 L200.898,176.58 L201.047,176.64 L201.194,176.70 L201.342,176.75 L201.489,176.81 L201.635,176.87 L201.781,176.93 L201.926,177.00 L202.071,177.06 L202.215,177.12 L202.359,177.19 L202.502,177.25 L202.619,177.31 M203.694,177.84 L203.765,177.88 L203.903,177.95 L204.040,178.03 L204.176,178.10 L204.312,178.18 L204.448,178.25 L204.583,178.33 L204.717,178.41 L204.851,178.49 L204.984,178.56 L205.117,178.64 L205.249,178.72 L205.381,178.80 L205.512,178.88 L205.642,178.97 L205.726,179.02 M206.720,179.69 L206.793,179.75 L206.918,179.84 L207.043,179.93 L207.167,180.02 L207.291,180.12 L207.414,180.21 L207.536,180.31 L207.658,180.41 L207.779,180.51 L207.900,180.61 L208.020,180.71 L208.140,180.82 L208.259,180.92 L208.378,181.03 L208.496,181.13 L208.541,181.18 M209.399,182.01 L209.421,182.04 L209.534,182.16 L209.647,182.27 L209.759,182.39 L209.871,182.51 L209.982,182.63 L210.092,182.75 L210.202,182.87 L210.312,182.99 L210.421,183.12 L210.529,183.24 L210.637,183.36 L210.744,183.49 L210.851,183.61 L210.957,183.74 L210.974,183.76 M211.725,184.69 L211.786,184.77 L211.888,184.91 L211.988,185.04 L212.089,185.17 L212.188,185.31 L212.287,185.45 L212.386,185.59 L212.484,185.73 L212.581,185.87 L212.678,186.01 L212.775,186.15 L212.870,186.29 L212.966,186.44 L213.061,186.58 L213.080,186.61 M213.712,187.63 L213.799,187.78 L213.889,187.93 L213.978,188.09 L214.067,188.25 L214.155,188.40 L214.243,188.56 L214.330,188.72 L214.417,188.88 L214.503,189.04 L214.588,189.20 L214.673,189.37 L214.758,189.53 L214.841,189.69 M215.371,190.77 L215.413,190.86 L215.493,191.03 L215.572,191.19 L215.650,191.36 L215.728,191.53 L215.806,191.70 L215.883,191.87 L215.959,192.04 L216.035,192.21 L216.110,192.38 L216.185,192.55 L216.259,192.72 L216.332,192.89 L216.339,192.91 M216.799,194.02 L216.832,194.10 L216.901,194.28 L216.970,194.45 L217.038,194.62 L217.106,194.80 L217.173,194.97 L217.239,195.14 L217.305,195.32 L217.371,195.49 L217.436,195.67 L217.500,195.84 L217.564,196.02 L217.627,196.19 L217.634,196.22 M218.028,197.35 L218.054,197.43 L218.113,197.60 L218.172,197.78 L218.230,197.96 L218.287,198.13 L218.344,198.31 L218.400,198.49 L218.455,198.66 L218.511,198.84 L218.565,199.02 L218.619,199.19 L218.673,199.37 L218.726,199.55 L218.737,199.59 M219.067,200.74 L219.081,200.79 L219.130,200.97 L219.178,201.15 L219.225,201.33 L219.272,201.51 L219.319,201.69 L219.364,201.86 L219.410,202.04 L219.455,202.22 L219.499,202.40 L219.542,202.58 L219.586,202.76 L219.628,202.94 L219.648,203.02 M219.911,204.19 L219.911,204.19 L219.950,204.37 L219.987,204.55 L220.025,204.73 L220.061,204.91 L220.097,205.09 L220.133,205.27 L220.168,205.45 L220.202,205.63 L220.236,205.81 L220.270,205.99 L220.303,206.17 L220.335,206.35 L220.361,206.50 M220.557,207.68 L220.574,207.79 L220.601,207.97 L220.628,208.15 L220.654,208.33 L220.680,208.51 L220.706,208.69 L220.730,208.87 L220.754,209.05 L220.778,209.23 L220.801,209.41 L220.824,209.59 L220.846,209.77 L220.867,209.95 L220.874,210.01 M221.001,211.20 L221.002,211.22 L221.019,211.40 L221.036,211.58 L221.052,211.76 L221.067,211.94 L221.082,212.12 L221.096,212.30 L221.110,212.48 L221.124,212.66 L221.136,212.84 L221.149,213.02 L221.160,213.20 L221.171,213.38 L221.181,213.55 M221.238,214.74 L221.241,214.83 L221.247,215.01 L221.253,215.19 L221.258,215.37 L221.263,215.55 L221.267,215.73 L221.270,215.92 L221.273,216.10 L221.276,216.28 L221.278,216.46 L221.279,216.64 L221.280,216.82 L221.280,217.00" stroke="#222" stroke-width="0.56" fill="none" stroke-linecap="butt" stroke-linejoin="round"/>
<path d="M153.680,205.16 L153.951,205.20 L154.221,205.23 L154.490,205.26 L154.759,205.30 L155.028,205.33 L155.296,205.36 L155.563,205.40 L155.830,205.43 L156.096,205.46 L156.362,205.49 L156.628,205.53 L156.892,205.56 L157.156,205.59 L157.420,205.62 L157.516,205.64 M159.154,205.84 L159.250,205.85 L159.509,205.88 L159.768,205.91 L160.026,205.95 L160.245,205.97 M161.883,206.18 L162.072,206.20 L162.325,206.23 L162.578,206.26 L162.830,206.29 L163.082,206.32 L163.333,206.35 L163.584,206.38 L163.834,206.41 L164.083,206.44 L164.332,206.47 L164.581,206.50 L164.829,206.53 L165.076,206.56 L165.323,206.59 L165.569,206.62 L165.815,206.65 L165.954,206.66 M167.593,206.85 L167.761,206.87 L168.001,206.90 L168.242,206.93 L168.481,206.96 L168.685,206.98 M170.323,207.18 L170.380,207.19 L170.614,207.22 L170.849,207.25 L171.082,207.28 L171.316,207.31 L171.548,207.34 L171.780,207.37 L172.012,207.41 L172.243,207.44 L172.474,207.47 L172.703,207.50 L172.933,207.53 L173.162,207.57 L173.390,207.60 L173.618,207.63 L173.845,207.67 L174.072,207.70 L174.298,207.74 L174.383,207.75 M176.012,208.01 L176.088,208.03 L176.309,208.07 L176.530,208.10 L176.750,208.14 L176.969,208.18 L177.096,208.20 M178.720,208.49 L178.922,208.53 L179.136,208.57 L179.349,208.61 L179.563,208.65 L179.775,208.69 L179.987,208.73 L180.199,208.77 L180.410,208.81 L180.620,208.84 L180.830,208.88 L181.039,208.92 L181.248,208.96 L181.456,209.00 L181.664,209.04 L181.871,209.08 L182.078,209.12 L182.284,209.15 L182.489,209.19 L182.694,209.23 L182.751,209.24 M184.375,209.53 L184.514,209.56 L184.714,209.60 L184.913,209.63 L185.111,209.67 L185.309,209.70 L185.458,209.73 M187.083,210.01 L187.259,210.04 L187.451,210.07 L187.642,210.11 L187.833,210.14 L188.023,210.17 L188.213,210.21 L188.402,210.24 L188.591,210.27 L188.779,210.31 L188.967,210.34 L189.154,210.37 L189.340,210.41 L189.526,210.44 L189.711,210.48 L189.896,210.51 L190.081,210.54 L190.264,210.58 L190.448,210.61 L190.630,210.65 L190.813,210.68 L190.994,210.71 L191.118,210.74 M192.736,211.06 L192.781,211.07 L192.956,211.11 L193.131,211.14 L193.306,211.18 L193.480,211.22 L193.653,211.26 L193.812,211.29 M195.415,211.68 L195.526,211.71 L195.693,211.75 L195.859,211.80 L196.025,211.84 L196.190,211.88 L196.355,211.93 L196.519,211.97 L196.683,212.01 L196.846,212.05 L197.009,212.10 L197.171,212.14 L197.333,212.18 L197.494,212.22 L197.654,212.26 L197.814,212.30 L197.973,212.34 L198.132,212.38 L198.290,212.42 L198.448,212.45 L198.605,212.49 L198.762,212.53 L198.918,212.56 L199.074,212.60 L199.229,212.63 L199.383,212.66 L199.395,212.67 M201.008,213.01 L201.047,213.02 L201.194,213.05 L201.342,213.08 L201.489,213.11 L201.635,213.14 L201.781,213.17 L201.926,213.20 L202.071,213.23 L202.085,213.23 M203.701,213.57 L203.765,213.58 L203.903,213.61 L204.040,213.64 L204.176,213.67 L204.312,213.70 L204.448,213.73 L204.583,213.76 L204.717,213.78 L204.851,213.81 L204.984,213.84 L205.117,213.87 L205.249,213.90 L205.381,213.92 L205.512,213.95 L205.642,213.98 L205.773,214.01 L205.902,214.03 L206.031,214.06 L206.159,214.09 L206.287,214.11 L206.415,214.14 L206.541,214.17 L206.668,214.19 L206.793,214.22 L206.918,214.25 L207.043,214.27 L207.167,214.30 L207.291,214.33 L207.414,214.35 L207.536,214.38 L207.658,214.40 L207.713,214.42 M209.324,214.77 L209.421,214.79 L209.534,214.82 L209.647,214.85 L209.759,214.87 L209.871,214.90 L209.982,214.93 L210.092,214.95 L210.202,214.98 L210.312,215.01 L210.393,215.03 M211.986,215.46 L211.988,215.46 L212.089,215.49 L212.188,215.51 L212.287,215.54 L212.386,215.57 L212.484,215.59 L212.581,215.62 L212.678,215.64 L212.775,215.67 L212.870,215.69 L212.966,215.72 L213.061,215.74 L213.155,215.76 L213.248,215.79 L213.342,215.81 L213.434,215.83 L213.526,215.86 L213.618,215.88 L213.709,215.90 L213.799,215.92 L213.889,215.94 L213.978,215.96 L214.067,215.98 L214.155,216.00 L214.243,216.01 L214.330,216.03 L214.417,216.05 L214.503,216.07 L214.588,216.08 L214.673,216.10 L214.758,216.11 L214.841,216.13 L214.925,216.14 L215.008,216.16 L215.090,216.17 L215.172,216.19 L215.253,216.20 L215.333,216.21 L215.413,216.23 L215.493,216.24 L215.572,216.26 L215.650,216.27 L215.728,216.28 L215.806,216.30 L215.883,216.31 L215.959,216.32 L215.991,216.33 M217.621,216.58 L217.627,216.58 L217.690,216.59 L217.752,216.60 L217.813,216.61 L217.874,216.62 L217.935,216.63 L217.995,216.64 L218.054,216.65 L218.113,216.65 L218.172,216.66 L218.230,216.67 L218.287,216.68 L218.344,216.69 L218.400,216.69 L218.455,216.70 L218.511,216.71 L218.565,216.72 L218.619,216.72 L218.673,216.73 L218.710,216.73 M220.350,216.92 L220.367,216.92 L220.398,216.92 L220.429,216.93 L220.459,216.93 L220.488,216.93 L220.517,216.94 L220.546,216.94 L220.574,216.94 L220.601,216.94 L220.628,216.95 L220.654,216.95 L220.680,216.95 L220.706,216.95 L220.730,216.96 L220.754,216.96 L220.778,216.96 L220.801,216.96 L220.824,216.96 L220.846,216.97 L220.867,216.97 L220.888,216.97 L220.908,216.97 L220.928,216.97 L220.947,216.97 L220.966,216.98 L220.984,216.98 L221.002,216.98 L221.019,216.98 L221.036,216.98 L221.052,216.98 L221.067,216.98 L221.082,216.98 L221.096,216.99 L221.110,216.99 L221.124,216.99 L221.136,216.99 L221.149,216.99 L221.160,216.99 L221.171,216.99 L221.182,216.99 L221.192,216.99 L221.202,216.99 L221.210,216.99 L221.219,217.00 L221.227,217.00 L221.234,217.00 L221.241,217.00 L221.247,217.00 L221.253,217.00 L221.258,217.00 L221.263,217.00 L221.267,217.00 L221.270,217.00 L221.273,217.00 L221.276,217.00 L221.278,217.00 L221.279,217.00 L221.280,217.00 L221.280,217.00" stroke="#ff2020" stroke-width="0.58" fill="none" stroke-linecap="butt" stroke-linejoin="round"/>
<path d="M153.680,199.89 L153.951,199.53 L154.221,199.18 L154.490,198.84 L154.759,198.53 L155.028,198.28 L155.296,198.10 L155.563,197.97 L155.830,197.85 L156.096,197.74 L156.362,197.65 L156.628,197.56 L156.892,197.48 L157.156,197.40 L157.420,197.34 L157.683,197.28 L157.946,197.22 L158.208,197.18 L158.469,197.13 L158.730,197.09 L158.990,197.06 L159.250,197.02 L159.509,196.99 L159.768,196.96 L160.026,196.93 L160.284,196.90 L160.541,196.88 L160.798,196.85 L161.054,196.82 L161.309,196.79 L161.564,196.76 L161.818,196.72 L162.072,196.68 L162.325,196.64 L162.578,196.60 L162.830,196.55 L163.082,196.51 L163.333,196.46 L163.584,196.41 L163.834,196.37 L164.083,196.33 L164.332,196.28 L164.581,196.24 L164.829,196.20 L165.076,196.15 L165.323,196.11 L165.569,196.07 L165.815,196.03 L166.060,195.99 L166.304,195.95 L166.548,195.91 L166.792,195.87 L167.035,195.83 L167.277,195.79 L167.519,195.76 L167.761,195.72 L168.001,195.68 L168.242,195.65 L168.481,195.61 L168.721,195.58 L168.959,195.54 L169.197,195.51 L169.435,195.48 L169.672,195.44 L169.908,195.41 L170.144,195.38 L170.380,195.35 L170.614,195.32 L170.849,195.29 L171.082,195.26 L171.316,195.23 L171.548,195.20 L171.780,195.17 L172.012,195.15 L172.243,195.12 L172.474,195.09 L172.703,195.07 L172.933,195.04 L173.162,195.02 L173.390,194.99 L173.618,194.97 L173.845,194.95 L174.072,194.92 L174.298,194.90 L174.524,194.88 L174.749,194.85 L174.973,194.83 L175.197,194.81 L175.421,194.78 L175.643,194.76 L175.866,194.74 L176.088,194.72 L176.309,194.70 L176.530,194.68 L176.750,194.66 L176.969,194.64 L177.188,194.62 L177.407,194.61 L177.625,194.59 L177.842,194.57 L178.059,194.56 L178.276,194.54 L178.492,194.52 L178.707,194.51 L178.922,194.50 L179.136,194.48 L179.349,194.47 L179.563,194.46 L179.775,194.45 L179.987,194.44 L180.199,194.43 L180.410,194.42 L180.620,194.42 L180.830,194.41 L181.039,194.40 L181.248,194.40 L181.456,194.39 L181.664,194.39 L181.871,194.39 L182.078,194.39 L182.284,194.39 L182.489,194.39 L182.694,194.39 L182.899,194.39 L183.102,194.39 L183.306,194.40 L183.509,194.40 L183.711,194.41 L183.913,194.41 L184.114,194.42 L184.314,194.43 L184.514,194.44 L184.714,194.45 L184.913,194.47 L185.111,194.48 L185.309,194.50 L185.507,194.51 L185.704,194.53 L185.900,194.55 L186.096,194.56 L186.291,194.58 L186.485,194.60 L186.680,194.62 L186.873,194.64 L187.066,194.66 L187.259,194.67 L187.451,194.69 L187.642,194.71 L187.833,194.72 L188.023,194.74 L188.213,194.76 L188.402,194.77 L188.591,194.79 L188.779,194.80 L188.967,194.82 L189.154,194.83 L189.340,194.84 L189.526,194.86 L189.711,194.87 L189.896,194.89 L190.081,194.90 L190.264,194.92 L190.448,194.93 L190.630,194.95 L190.813,194.96 L190.994,194.98 L191.175,194.99 L191.356,195.01 L191.536,195.03 L191.715,195.04 L191.894,195.06 L192.073,195.07 L192.250,195.09 L192.428,195.11 L192.604,195.13 L192.781,195.14 L192.956,195.16 L193.131,195.18 L193.306,195.20 L193.480,195.22 L193.653,195.24 L193.826,195.26 L193.999,195.28 L194.171,195.30 L194.342,195.32 L194.513,195.34 L194.683,195.36 L194.853,195.38 L195.022,195.40 L195.190,195.42 L195.358,195.44 L195.526,195.46 L195.693,195.48 L195.859,195.51 L196.025,195.53 L196.190,195.55 L196.355,195.57 L196.519,195.60 L196.683,195.62 L196.846,195.65 L197.009,195.67 L197.171,195.70 L197.333,195.72 L197.494,195.75 L197.654,195.77 L197.814,195.80 L197.973,195.83 L198.132,195.86 L198.290,195.89 L198.448,195.91 L198.605,195.94 L198.762,195.97 L198.918,196.00 L199.074,196.03 L199.229,196.06 L199.383,196.09 L199.537,196.12 L199.690,196.16 L199.843,196.19 L199.996,196.22 L200.147,196.25 L200.299,196.28 L200.449,196.31 L200.599,196.34 L200.749,196.38 L200.898,196.41 L201.047,196.45 L201.194,196.48 L201.342,196.51 L201.489,196.55 L201.635,196.59 L201.781,196.62 L201.926,196.66 L202.071,196.70 L202.215,196.74 L202.359,196.78 L202.502,196.82 L202.644,196.86 L202.786,196.90 L202.928,196.94 L203.069,196.99 L203.209,197.03 L203.349,197.07 L203.488,197.12 L203.627,197.17 L203.765,197.21 L203.903,197.26 L204.040,197.31 L204.176,197.36 L204.312,197.41 L204.448,197.46 L204.583,197.52 L204.717,197.57 L204.851,197.62 L204.984,197.68 L205.117,197.73 L205.249,197.79 L205.381,197.84 L205.512,197.90 L205.642,197.95 L205.773,198.01 L205.902,198.07 L206.031,198.13 L206.159,198.19 L206.287,198.24 L206.415,198.30 L206.541,198.36 L206.668,198.42 L206.793,198.48 L206.918,198.54 L207.043,198.61 L207.167,198.67 L207.291,198.73 L207.414,198.79 L207.536,198.85 L207.658,198.91 L207.779,198.98 L207.900,199.04 L208.020,199.10 L208.140,199.17 L208.259,199.23 L208.378,199.29 L208.496,199.36 L208.614,199.42 L208.731,199.48 L208.847,199.55 L208.963,199.61 L209.078,199.68 L209.193,199.74 L209.308,199.80 L209.421,199.87 L209.534,199.93 L209.647,200.00 L209.759,200.06 L209.871,200.12 L209.982,200.19 L210.092,200.25 L210.202,200.31 L210.312,200.38 L210.421,200.44 L210.529,200.50 L210.637,200.57 L210.744,200.63 L210.851,200.69 L210.957,200.76 L211.062,200.82 L211.167,200.88 L211.272,200.95 L211.376,201.01 L211.479,201.08 L211.582,201.14 L211.685,201.21 L211.786,201.28 L211.888,201.34 L211.988,201.41 L212.089,201.48 L212.188,201.54 L212.287,201.61 L212.386,201.68 L212.484,201.75 L212.581,201.82 L212.678,201.89 L212.775,201.96 L212.870,202.03 L212.966,202.10 L213.061,202.18 L213.155,202.25 L213.248,202.32 L213.342,202.40 L213.434,202.47 L213.526,202.55 L213.618,202.62 L213.709,202.70 L213.799,202.78 L213.889,202.85 L213.978,202.93 L214.067,203.01 L214.155,203.09 L214.243,203.17 L214.330,203.25 L214.417,203.33 L214.503,203.42 L214.588,203.50 L214.673,203.58 L214.758,203.66 L214.841,203.75 L214.925,203.83 L215.008,203.92 L215.090,204.00 L215.172,204.08 L215.253,204.17 L215.333,204.25 L215.413,204.34 L215.493,204.42 L215.572,204.51 L215.650,204.59 L215.728,204.68 L215.806,204.76 L215.883,204.85 L215.959,204.93 L216.035,205.02 L216.110,205.10 L216.185,205.19 L216.259,205.27 L216.332,205.36 L216.405,205.44 L216.478,205.53 L216.550,205.61 L216.621,205.70 L216.692,205.78 L216.762,205.87 L216.832,205.95 L216.901,206.04 L216.970,206.12 L217.038,206.21 L217.106,206.30 L217.173,206.38 L217.239,206.47 L217.305,206.55 L217.371,206.64 L217.436,206.73 L217.500,206.81 L217.564,206.90 L217.627,206.98 L217.690,207.07 L217.752,207.16 L217.813,207.24 L217.874,207.33 L217.935,207.41 L217.995,207.50 L218.054,207.59 L218.113,207.67 L218.172,207.76 L218.230,207.85 L218.287,207.94 L218.344,208.03 L218.400,208.12 L218.455,208.21 L218.511,208.30 L218.565,208.40 L218.619,208.49 L218.673,208.58 L218.726,208.67 L218.778,208.77 L218.830,208.86 L218.881,208.96 L218.932,209.05 L218.982,209.14 L219.032,209.24 L219.081,209.33 L219.130,209.43 L219.178,209.52 L219.225,209.62 L219.272,209.71 L219.319,209.80 L219.364,209.90 L219.410,209.99 L219.455,210.09 L219.499,210.18 L219.542,210.27 L219.586,210.37 L219.628,210.46 L219.670,210.55 L219.712,210.65 L219.753,210.74 L219.793,210.83 L219.833,210.93 L219.873,211.02 L219.911,211.11 L219.950,211.20 L219.987,211.29 L220.025,211.38 L220.061,211.47 L220.097,211.56 L220.133,211.65 L220.168,211.74 L220.202,211.83 L220.236,211.92 L220.270,212.01 L220.303,212.10 L220.335,212.19 L220.367,212.28 L220.398,212.37 L220.429,212.45 L220.459,212.54 L220.488,212.63 L220.517,212.71 L220.546,212.80 L220.574,212.89 L220.601,212.97 L220.628,213.06 L220.654,213.14 L220.680,213.23 L220.706,213.31 L220.730,213.40 L220.754,213.48 L220.778,213.56 L220.801,213.65 L220.824,213.73 L220.846,213.81 L220.867,213.90 L220.888,213.98 L220.908,214.06 L220.928,214.14 L220.947,214.23 L220.966,214.31 L220.984,214.39 L221.002,214.47 L221.019,214.55 L221.036,214.63 L221.052,214.71 L221.067,214.79 L221.082,214.87 L221.096,214.95 L221.110,215.03 L221.124,215.11 L221.136,215.19 L221.149,215.27 L221.160,215.35 L221.171,215.43 L221.182,215.51 L221.192,215.59 L221.202,215.67 L221.210,215.75 L221.219,215.83 L221.227,215.91 L221.234,215.98 L221.241,216.06 L221.247,216.14 L221.253,216.22 L221.258,216.30 L221.263,216.38 L221.267,216.45 L221.270,216.53 L221.273,216.61 L221.276,216.69 L221.278,216.77 L221.279,216.84 L221.280,216.92 L221.280,217.00" stroke="#2828ff" stroke-width="0.5" fill="none" stroke-linecap="butt" stroke-linejoin="round"/>
<text class="ser" transform="translate(86.400,146.00) scale(1.03,1)" font-size="6.9" text-anchor="middle" font-weight="bold" fill="#000" >(a)</text>
<text class="ser" transform="translate(188.060,146.00) scale(1.03,1)" font-size="6.9" text-anchor="middle" font-weight="bold" fill="#000" >(b)</text>
<path d="M56.440,154.4 H86.520 M56.440,169.3 H86.520" stroke="#555" stroke-width="0.46" stroke-dasharray="0.45 0.67" fill="none"/>
<path d="M56.440,154.4 V169.3 M86.520,154.4 V169.3" stroke="#555" stroke-width="0.3" stroke-dasharray="0.6 0.5" fill="none"/>
<path d="M58.800,157.55 L61.160,157.55" stroke="#000" stroke-width="0.62" fill="none"/>
<path d="M62.400,157.55 L64.760,157.55" stroke="#000" stroke-width="0.62" fill="none"/>
<path d="M58.800,162.00 L62.800,162.00" stroke="#ff2020" stroke-width="0.7" fill="none"/>
<path d="M64.400,162.00 L65.920,162.00" stroke="#ff2020" stroke-width="0.7" fill="none"/>
<path d="M58.800,166.25 L65.920,166.25" stroke="#2828ff" stroke-width="0.5" fill="none"/>
<text class="ser" x="68.120" y="158.90" font-size="4.9" textLength="2.720" lengthAdjust="spacingAndGlyphs" font-weight="normal" fill="#000" stroke="#000" stroke-width="0.04">Φ</text>
<text class="ser" x="71.160" y="159.90" font-size="2.8" textLength="0.800" lengthAdjust="spacingAndGlyphs" font-weight="normal" fill="#111" stroke="#111" stroke-width="0.05">1</text>
<text class="ser" x="72.920" y="158.90" font-size="4.9" textLength="2.320" lengthAdjust="spacingAndGlyphs" font-weight="normal" fill="#111" stroke="#111" stroke-width="0.06">=</text>
<text class="ser" x="75.880" y="158.90" font-size="4.9" textLength="1.840" lengthAdjust="spacingAndGlyphs" font-weight="normal" fill="#000" stroke="#000" stroke-width="0.07">0</text>
<text class="ser" x="68.120" y="163.60" font-size="4.9" textLength="2.720" lengthAdjust="spacingAndGlyphs" font-weight="normal" fill="#000" stroke="#000" stroke-width="0.04">Φ</text>
<text class="ser" x="71.160" y="164.60" font-size="2.8" textLength="0.800" lengthAdjust="spacingAndGlyphs" font-weight="normal" fill="#111" stroke="#111" stroke-width="0.05">1</text>
<text class="ser" x="72.920" y="163.60" font-size="4.9" textLength="2.320" lengthAdjust="spacingAndGlyphs" font-weight="normal" fill="#111" stroke="#111" stroke-width="0.06">=</text>
<text class="ser" x="75.880" y="163.60" font-size="4.9" textLength="2.000" lengthAdjust="spacingAndGlyphs" font-weight="normal" fill="#000" stroke="#000" stroke-width="0.07">π</text>
<text class="ser" x="68.120" y="168.00" font-size="4.9" textLength="2.720" lengthAdjust="spacingAndGlyphs" font-weight="normal" fill="#000" stroke="#000" stroke-width="0.04">Φ</text>
<text class="ser" x="71.160" y="169.00" font-size="2.8" textLength="0.800" lengthAdjust="spacingAndGlyphs" font-weight="normal" fill="#111" stroke="#111" stroke-width="0.05">1</text>
<text class="ser" x="72.920" y="168.00" font-size="4.9" textLength="2.320" lengthAdjust="spacingAndGlyphs" font-weight="normal" fill="#111" stroke="#111" stroke-width="0.06">=</text>
<text class="ser" x="75.880" y="168.00" font-size="4.9" textLength="5.200" lengthAdjust="spacingAndGlyphs" font-weight="normal" fill="#000" stroke="#000" stroke-width="0.07">π/2</text>
<path d="M158.040,154.4 H188.120 M158.040,169.3 H188.120" stroke="#555" stroke-width="0.46" stroke-dasharray="0.45 0.67" fill="none"/>
<path d="M158.040,154.4 V169.3 M188.120,154.4 V169.3" stroke="#555" stroke-width="0.3" stroke-dasharray="0.6 0.5" fill="none"/>
<path d="M160.400,157.55 L162.760,157.55" stroke="#000" stroke-width="0.62" fill="none"/>
<path d="M164.000,157.55 L166.360,157.55" stroke="#000" stroke-width="0.62" fill="none"/>
<path d="M160.400,162.00 L164.400,162.00" stroke="#ff2020" stroke-width="0.7" fill="none"/>
<path d="M166.000,162.00 L167.520,162.00" stroke="#ff2020" stroke-width="0.7" fill="none"/>
<path d="M160.400,166.25 L167.520,166.25" stroke="#2828ff" stroke-width="0.5" fill="none"/>
<text class="ser" x="169.720" y="158.90" font-size="4.9" textLength="2.720" lengthAdjust="spacingAndGlyphs" font-weight="normal" fill="#000" stroke="#000" stroke-width="0.04">Φ</text>
<text class="ser" x="172.760" y="159.90" font-size="2.8" textLength="0.800" lengthAdjust="spacingAndGlyphs" font-weight="normal" fill="#111" stroke="#111" stroke-width="0.05">1</text>
<text class="ser" x="174.520" y="158.90" font-size="4.9" textLength="2.320" lengthAdjust="spacingAndGlyphs" font-weight="normal" fill="#111" stroke="#111" stroke-width="0.06">=</text>
<text class="ser" x="177.480" y="158.90" font-size="4.9" textLength="1.840" lengthAdjust="spacingAndGlyphs" font-weight="normal" fill="#000" stroke="#000" stroke-width="0.07">0</text>
<text class="ser" x="169.720" y="163.60" font-size="4.9" textLength="2.720" lengthAdjust="spacingAndGlyphs" font-weight="normal" fill="#000" stroke="#000" stroke-width="0.04">Φ</text>
<text class="ser" x="172.760" y="164.60" font-size="2.8" textLength="0.800" lengthAdjust="spacingAndGlyphs" font-weight="normal" fill="#111" stroke="#111" stroke-width="0.05">1</text>
<text class="ser" x="174.520" y="163.60" font-size="4.9" textLength="2.320" lengthAdjust="spacingAndGlyphs" font-weight="normal" fill="#111" stroke="#111" stroke-width="0.06">=</text>
<text class="ser" x="177.480" y="163.60" font-size="4.9" textLength="2.000" lengthAdjust="spacingAndGlyphs" font-weight="normal" fill="#000" stroke="#000" stroke-width="0.07">π</text>
<text class="ser" x="169.720" y="168.00" font-size="4.9" textLength="2.720" lengthAdjust="spacingAndGlyphs" font-weight="normal" fill="#000" stroke="#000" stroke-width="0.04">Φ</text>
<text class="ser" x="172.760" y="169.00" font-size="2.8" textLength="0.800" lengthAdjust="spacingAndGlyphs" font-weight="normal" fill="#111" stroke="#111" stroke-width="0.05">1</text>
<text class="ser" x="174.520" y="168.00" font-size="4.9" textLength="2.320" lengthAdjust="spacingAndGlyphs" font-weight="normal" fill="#111" stroke="#111" stroke-width="0.06">=</text>
<text class="ser" x="177.480" y="168.00" font-size="4.9" textLength="5.200" lengthAdjust="spacingAndGlyphs" font-weight="normal" fill="#000" stroke="#000" stroke-width="0.07">π/2</text>
<text class="ser" x="60.080" y="227.15" font-size="5.1" textLength="2.000" lengthAdjust="spacingAndGlyphs" font-weight="normal" fill="#000" stroke="#000" stroke-width="0.07">E</text>
<text class="ser" x="62.240" y="228.25" font-size="3.4" textLength="2.320" lengthAdjust="spacingAndGlyphs" font-weight="normal" fill="#000" stroke="#000" stroke-width="0.07">cm</text>
<text class="ser" x="67.320" y="227.15" font-size="5.1" textLength="2.720" lengthAdjust="spacingAndGlyphs" font-weight="normal" fill="#000" stroke="#000" stroke-width="0.07">−</text>
<text class="ser" x="71.520" y="227.15" font-size="5.1" textLength="1.040" lengthAdjust="spacingAndGlyphs" font-weight="normal" fill="#000" stroke="#000" stroke-width="0.07">(</text>
<text class="ser" x="72.800" y="227.15" font-size="5.1" textLength="2.400" lengthAdjust="spacingAndGlyphs" font-weight="normal" fill="#000" stroke="#000" stroke-width="0.07">m</text>
<text class="ser" x="75.280" y="228.25" font-size="3.4" textLength="0.800" lengthAdjust="spacingAndGlyphs" font-weight="normal" fill="#000" stroke="#000" stroke-width="0.07">2</text>
<text class="ser" x="76.080" y="227.15" font-size="5.1" textLength="1.680" lengthAdjust="spacingAndGlyphs" font-weight="normal" fill="#000" stroke="#000" stroke-width="0.07">+</text>
<text class="ser" x="77.760" y="227.15" font-size="5.1" textLength="2.320" lengthAdjust="spacingAndGlyphs" font-weight="normal" fill="#000" stroke="#000" stroke-width="0.07">m</text>
<text class="ser" x="80.160" y="228.25" font-size="3.4" textLength="0.800" lengthAdjust="spacingAndGlyphs" font-weight="normal" fill="#000" stroke="#000" stroke-width="0.07">1</text>
<text class="ser" x="81.120" y="227.15" font-size="5.1" textLength="1.040" lengthAdjust="spacingAndGlyphs" font-weight="normal" fill="#000" stroke="#000" stroke-width="0.07">)</text>
<text class="ser" x="91.360" y="227.15" font-size="5.1" textLength="0.880" lengthAdjust="spacingAndGlyphs" font-weight="normal" fill="#000" stroke="#000" stroke-width="0.07">[</text>
<text class="ser" x="92.240" y="227.15" font-size="5.1" textLength="9.360" lengthAdjust="spacingAndGlyphs" font-weight="normal" fill="#000" stroke="#000" stroke-width="0.07">GeV</text>
<text class="ser" x="101.680" y="227.15" font-size="5.1" textLength="0.960" lengthAdjust="spacingAndGlyphs" font-weight="normal" fill="#000" stroke="#000" stroke-width="0.07">]</text>
<text class="ser" x="184.960" y="227.30" font-size="7.2" textLength="2.960" lengthAdjust="spacingAndGlyphs" font-weight="normal" fill="#000" stroke="#000" stroke-width="0.04">z</text>
<text class="ser" x="188.160" y="228.80" font-size="3.9" textLength="2.400" lengthAdjust="spacingAndGlyphs" font-weight="normal" fill="#000" stroke="#000" stroke-width="0.07">B</text>
<text class="" transform="translate(39.040,183.00) scale(1.0,1) rotate(-90)" font-size="6.25" text-anchor="middle" fill="#000" stroke="#000" stroke-width="0.08">σ(12) [fb]</text>
<text class="" transform="translate(134.480,184.60) scale(1.13,1) rotate(-90)" font-size="4.95" text-anchor="middle" fill="#000" stroke="#000" stroke-width="0.08">dΓ(21)/dz<tspan font-size='3.6' dy='1.2'>B</tspan><tspan dy='-1.2'> [keV]</tspan></text>
</g></g></svg></body></html>
